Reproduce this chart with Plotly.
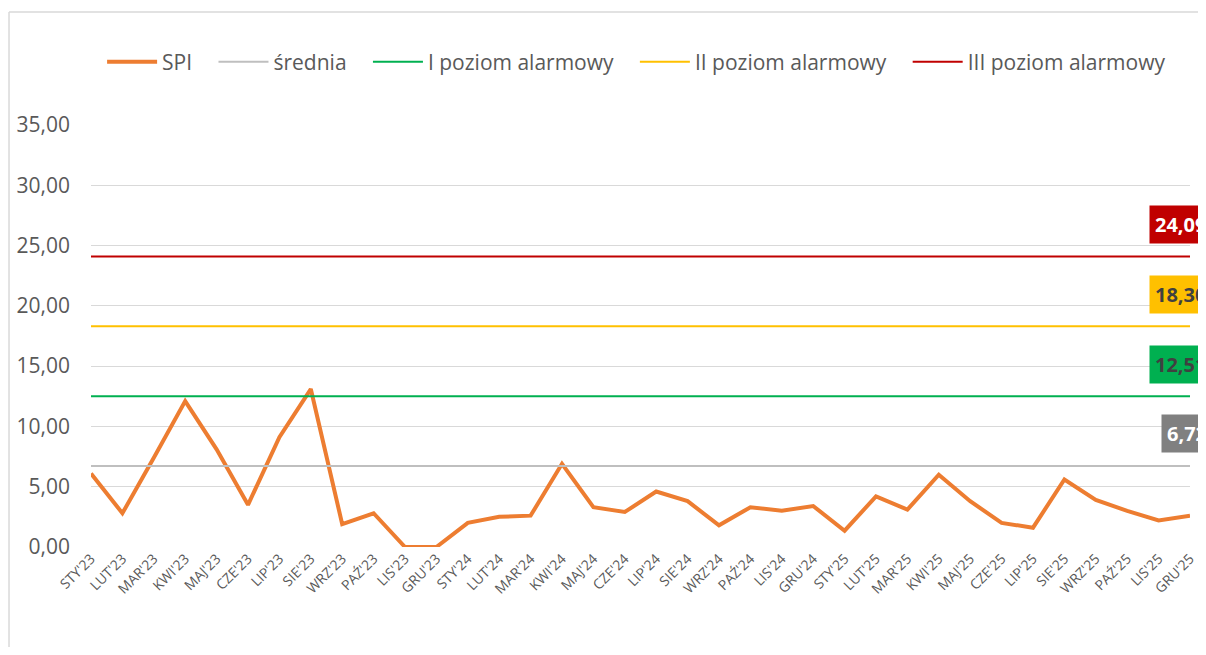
import plotly.graph_objects as go

miesiace = ["STY'23", "LUT'23", "MAR'23", "KWI'23", "MAJ'23", "CZE'23", "LIP'23", "SIE'23",
            "WRZ'23", "PAŹ'23", "LIS'23", "GRU'23",
            "STY'24", "LUT'24", "MAR'24", "KWI'24", "MAJ'24", "CZE'24", "LIP'24", "SIE'24",
            "WRZ'24", "PAŹ'24", "LIS'24", "GRU'24",
            "STY'25", "LUT'25", "MAR'25", "KWI'25", "MAJ'25", "CZE'25", "LIP'25", "SIE'25",
            "WRZ'25", "PAŹ'25", "LIS'25", "GRU'25"]

spi = [6.1, 2.8, 7.4, 12.1, 8.1, 3.5, 9.1, 13.1, 1.9, 2.8, 0.0, 0.0,
       2.0, 2.5, 2.6, 6.9, 3.3, 2.9, 4.6, 3.8, 1.8, 3.3, 3.0, 3.4,
       1.35, 4.2, 3.1, 6.0, 3.8, 2.0, 1.6, 5.6, 3.9, 3.0, 2.2, 2.6]

srednia = 6.72
poziom_1 = 12.51
poziom_2 = 18.30
poziom_3 = 24.09

FONT = "Open Sans"
TXT = "#595959"
ODSTEP = "\u00a0\u00a0\u00a0"  # dodatkowy odstęp w legendzie


def main():
    fig = go.Figure()

    fig.add_trace(go.Scatter(x=miesiace, y=spi, name="SPI" + ODSTEP, mode="lines",
                             line=dict(color="#ED7D31", width=4)))

    poziomy = [
        ("średnia", srednia, "#BFBFBF"),
        ("I poziom alarmowy", poziom_1, "#00B050"),
        ("II poziom alarmowy", poziom_2, "#FFC000"),
        ("III poziom alarmowy", poziom_3, "#C00000"),
    ]
    for nazwa, wartosc, kolor in poziomy:
        fig.add_trace(go.Scatter(x=miesiace, y=[wartosc] * len(miesiace), name=nazwa + ODSTEP,
                                 mode="lines", line=dict(color=kolor, width=2)))

    # etykiety wartości po prawej
    etykiety = [
        (poziom_3, "#C00000", "white", 0.9627),
        (poziom_2, "#FFC000", "#404040", 0.9627),
        (poziom_1, "#00B050", "#404040", 0.9627),
        (srednia, "#808080", "white", 0.9736),
    ]
    for wartosc, tlo, kolor, px in etykiety:
        fig.add_annotation(x=px, xref="paper", xanchor="left", y=wartosc, yref="y",
                           yshift=32, showarrow=False,
                           text="<b>" + f"{wartosc:.2f}".replace(".", ",") + "</b>",
                           font=dict(family=FONT, size=20, color=kolor),
                           bgcolor=tlo, borderpad=5)

    # ramka wykresu (tylko lewa i górna krawędź są widoczne)
    ramka = dict(color="#D9D9D9", width=1.5)
    fig.add_shape(type="line", xref="paper", yref="paper",
                  x0=-0.0746, x1=1.2, y0=1.2678, y1=1.2678, line=ramka, layer="below")
    fig.add_shape(type="line", xref="paper", yref="paper",
                  x0=-0.0746, x1=-0.0746, y0=-0.5, y1=1.2678, line=ramka, layer="below")

    fig.update_layout(
        width=1190, height=639,
        margin=dict(l=83, r=8, t=117, b=100),
        paper_bgcolor="white", plot_bgcolor="white",
        separators=", ",
        font=dict(family=FONT, color=TXT),
        showlegend=True,
        legend=dict(orientation="h", x=0.0101, xanchor="left", y=1.149, yanchor="middle",
                    font=dict(family=FONT, size=21, color=TXT),
                    itemwidth=50, tracegroupgap=0, bgcolor="rgba(0,0,0,0)"),
        xaxis=dict(type="category", range=[0, 35], tickangle=-45,
                   tickfont=dict(family=FONT, size=14, color=TXT),
                   showgrid=False, ticks="", showline=False, zeroline=False),
        yaxis=dict(range=[0, 35], dtick=5, tickformat=".2f",
                   tickfont=dict(family=FONT, size=21, color=TXT),
                   gridcolor="#D9D9D9", gridwidth=1, zeroline=False,
                   showline=False, ticks="", ticklen=0),
    )
    fig.update_xaxes(automargin=False)
    fig.update_yaxes(automargin=False, ticklabelstandoff=20)

    fig.write_html("out.html")
    return 0


if __name__ == "__main__":
    main()
